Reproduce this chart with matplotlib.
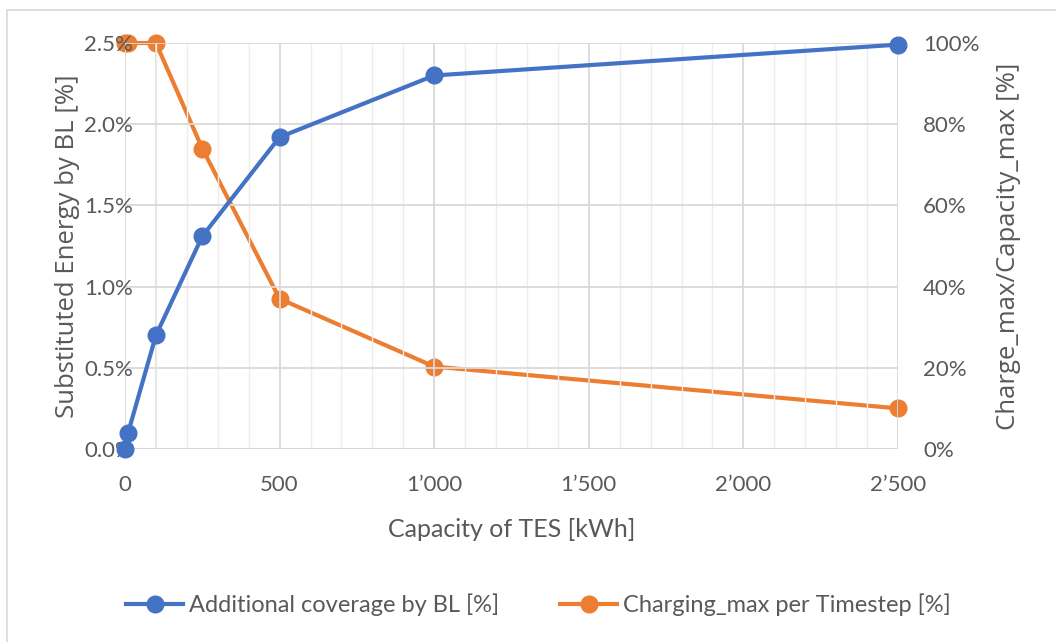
import matplotlib
matplotlib.use("Agg")
import matplotlib.pyplot as plt
from matplotlib.ticker import FuncFormatter, MultipleLocator
from matplotlib.patches import Rectangle

capacity_kwh = [0, 10, 100, 250, 500, 1000, 2500]
additional_coverage = [0.0, 0.10, 0.70, 1.31, 1.92, 2.30, 2.49]
charging_max = [100, 100, 100, 74, 37, 20.3, 10]

x_ticks = [0, 500, 1000, 1500, 2000, 2500]
left_ticks = [0.0, 0.5, 1.0, 1.5, 2.0, 2.5]
right_ticks = [0, 20, 40, 60, 80, 100]

blue = "#4472C4"
orange = "#ED7D31"
text_grey = "#595959"
grid_major = "#D9D9D9"
grid_minor = "#EDEDED"

tick_font = "Lato"
label_font = "Open Sans"

W, H = 1056, 642
fig = plt.figure(figsize=(W / 100, H / 100), dpi=100)
fig.patch.set_facecolor("white")

# chart frame
fig.add_artist(Rectangle((7 / W, -0.1), 1.2, (H - 10) / H + 0.1,
                         transform=fig.transFigure, fill=False,
                         edgecolor="#D9D9D9", linewidth=1.2))

left, right, top, bottom = 125, 898, 43, 449
ax = fig.add_axes([left / W, 1 - bottom / H, (right - left) / W, (bottom - top) / H])
ax2 = ax.twinx()

ax.set_xlim(0, 2500)
ax.set_ylim(0, 2.5)
ax2.set_ylim(0, 100)

# gridlines
ax.xaxis.set_minor_locator(MultipleLocator(100))
ax.set_xticks(x_ticks)
ax.set_yticks(left_ticks)
ax2.set_yticks(right_ticks)
ax.grid(which="minor", axis="x", color=grid_minor, linewidth=1.0)
ax.grid(which="major", axis="x", color=grid_major, linewidth=1.3)
ax.grid(which="major", axis="y", color=grid_major, linewidth=1.3)
ax.axvline(100, color=grid_major, linewidth=1.3, zorder=0.5)
ax.set_axisbelow(True)

for a in (ax, ax2):
    for s in a.spines.values():
        s.set_visible(False)
ax.axhline(0, color=grid_major, linewidth=1.3, zorder=0.6)

ax.tick_params(axis="both", which="both", length=0)
ax2.tick_params(axis="both", which="both", length=0)
ax.tick_params(axis="x", pad=19)
ax.tick_params(axis="y", pad=-6)
ax2.tick_params(axis="y", pad=18)

ax.xaxis.set_major_formatter(FuncFormatter(
    lambda v, p: f"{int(v):,}".replace(",", "\u2019")))
ax.yaxis.set_major_formatter(FuncFormatter(lambda v, p: f"{v:.1f}%"))
ax2.yaxis.set_major_formatter(FuncFormatter(lambda v, p: f"{int(v)}%"))

for lab in ax.get_xticklabels() + ax.get_yticklabels() + ax2.get_yticklabels():
    lab.set_fontfamily(tick_font)
    lab.set_fontsize(16)
    lab.set_color(text_grey)

l1, = ax.plot(capacity_kwh, additional_coverage, color=blue, linewidth=3.0,
              marker="o", markersize=12, zorder=4,
              label="Additional coverage by BL [%]")
l2, = ax2.plot(capacity_kwh, charging_max, color=orange, linewidth=3.0,
               marker="o", markersize=12, zorder=3,
               label="Charging_max per Timestep [%]")
ax.set_zorder(ax2.get_zorder() + 1)
ax.patch.set_visible(False)
for ln in (l1, l2):
    ln.set_clip_on(False)

ax.set_ylabel("Substituted Energy by BL [%]", fontfamily=label_font,
              fontsize=18.5, color=text_grey, labelpad=3)
ax2.set_ylabel("Charge_max/Capacity_max [%]", fontfamily=label_font,
               fontsize=18.5, color=text_grey, labelpad=12)
ax.set_xlabel("Capacity of TES [kWh]", fontfamily=tick_font,
              fontsize=18, color=text_grey, labelpad=16)

leg = fig.legend(handles=[l1, l2], loc="center", bbox_to_anchor=(0.51, 1 - 605 / H),
                 ncol=2, frameon=False, columnspacing=2.6, handlelength=2.4,
                 handletextpad=0.25, prop={"family": tick_font, "size": 17})
for t in leg.get_texts():
    t.set_color(text_grey)

fig.savefig("out.png", dpi=100, facecolor="white")
